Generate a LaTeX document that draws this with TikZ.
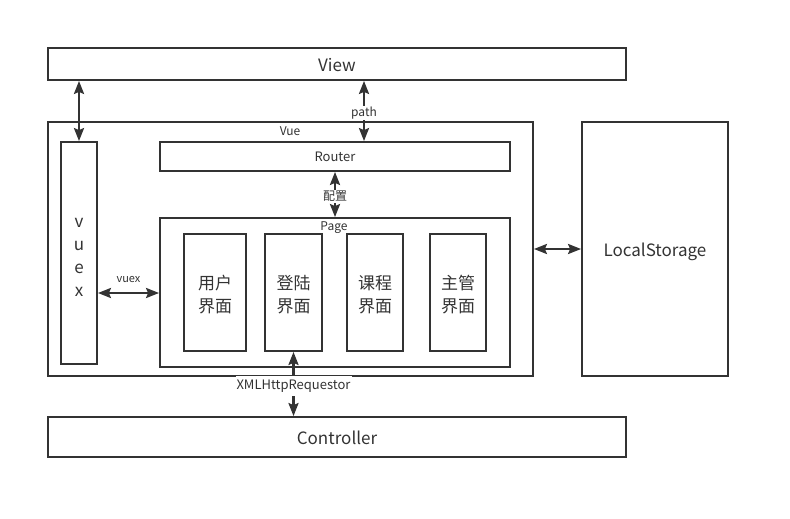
\documentclass[tikz,border=0pt]{standalone}
\usepackage{fontspec}
\setmainfont{Noto Sans CJK SC}
\usetikzlibrary{arrows.meta, positioning}
\definecolor{ink}{HTML}{333333}

\begin{document}
\begin{tikzpicture}[x=1pt, y=-1pt,
  box/.style={draw=ink, line width=1.8pt, inner sep=0pt, align=center,
              text=ink, text depth=0pt},
  arr/.style={{Stealth[length=13pt,width=10pt,inset=2pt]}-{Stealth[length=13pt,width=10pt,inset=2pt]},
              line width=2.4pt, ink},
  lbl/.style={fill=white, inner sep=1pt, text=ink, yshift=-2pt,
              font=\fontsize{12}{14}\selectfont},
  pagebox/.style={box, minimum width=57pt, minimum height=117pt, text height=40pt,
                  font=\fontsize{17}{23}\selectfont}
]
\useasboundingbox (0,0) rectangle (790,519);

\node[box, minimum width=578pt, minimum height=32pt, text height=14.8pt,
      font=\fontsize{17}{20}\selectfont] (view) at (337,64) {View};
\node[box, minimum width=485pt, minimum height=254pt] (vue) at (290.5,249) {};
\node[text=ink, font=\fontsize{12}{14}\selectfont] (vuelbl) at (290,131) {Vue};

\node[box, minimum width=36pt, minimum height=222pt, text height=87pt,
      font=\fontsize{17}{23}\selectfont] (vuex) at (79,253) {v\\u\\e\\x};
\node[box, minimum width=350pt, minimum height=29pt, text height=10.5pt,
      font=\fontsize{13}{15}\selectfont] (router) at (335,156.5) {Router};
\node[box, minimum width=350pt, minimum height=149pt] (page) at (335,292.5) {};
\node[text=ink, font=\fontsize{12}{14}\selectfont] (pagelbl) at (334,228) {Page};

% pages
\node[pagebox, minimum width=62pt] (user)    at (215,292.5)   {用户\\界面};
\node[pagebox]                     (login)   at (293.5,292.5) {登陆\\界面};
\node[pagebox, minimum width=56pt] (course)  at (375,292.5)   {课程\\界面};
\node[pagebox, minimum width=56pt] (manager) at (458,292.5)   {主管\\界面};

\node[box, minimum width=146pt, minimum height=254pt, text height=14.8pt,
      font=\fontsize{17}{20}\selectfont] (storage) at (655,249) {LocalStorage};
\node[box, minimum width=578pt, minimum height=40pt, text height=14.8pt,
      font=\fontsize{17}{20}\selectfont] (ctrl) at (337,437) {Controller};

\coordinate (pathx) at (364,0);
\coordinate (vuexy) at (0,293);

\draw[arr] (vuex.north |- view.south) -- (vuex.north);
\draw[arr] (view.south -| pathx) -- (router.north -| pathx)
  node[lbl, midway] {path};
\draw[arr] (router.south) -- (page.north)
  node[lbl, midway] {配置};
\draw[arr] (vuex.east |- vuexy) -- (page.west |- vuexy)
  node[midway, above=6pt, text=ink, font=\fontsize{11}{13}\selectfont] {vuex};
\draw[arr] (vue.east) -- (storage.west);
\draw[arr] (login.south) -- (ctrl.north -| login.south)
  node[lbl, midway, inner ysep=4pt, font=\fontsize{13}{15}\selectfont] {XMLHttpRequestor};
\end{tikzpicture}
\end{document}
